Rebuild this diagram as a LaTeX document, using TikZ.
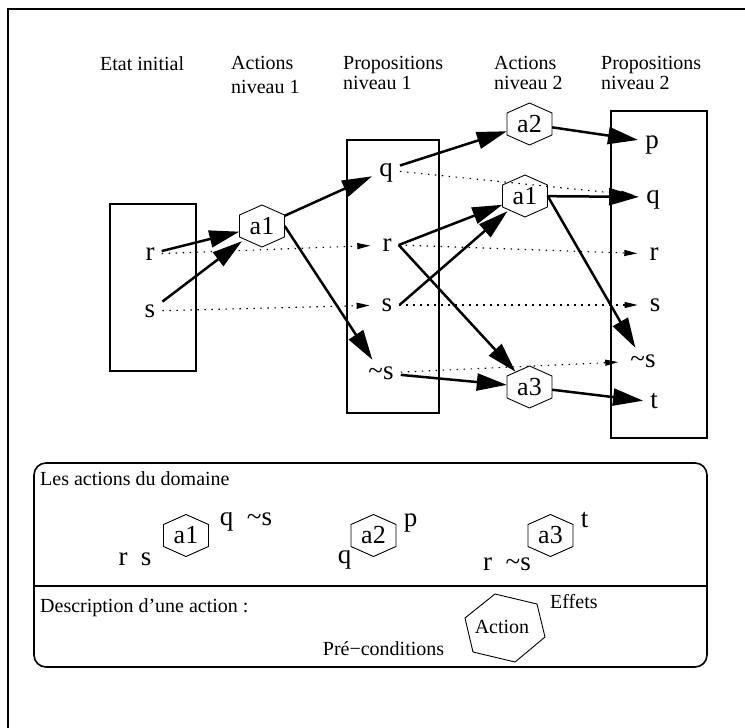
\documentclass[tikz,border=0pt]{standalone}
\usepackage{fontspec}
\setmainfont{Liberation Serif}
\usetikzlibrary{arrows.meta, positioning}
\tikzset {
  header/.style = {font=\fontsize{20}{20.5}\selectfont, align=left, anchor=north west, inner sep=0pt},
  note/.style = {font=\fontsize{20}{20}\selectfont, anchor=base west, inner sep=0pt},
  prop/.style = {font=\fontsize{27}{27}\selectfont, anchor=base, text height=12pt, text depth=0pt, inner sep=7pt},
  cond/.style = {font=\fontsize{27}{27}\selectfont, anchor=base, inner sep=0pt},
  act/.style = {font=\fontsize{26}{26}\selectfont, minimum width=45pt, minimum height=30pt, inner sep=0pt},
  hexline/.style = {line width=0.9pt},
  propbox/.style = {draw, line width=2.5pt, inner sep=0pt},
  line/.style = {->, line width=2.5pt, >={Triangle[length=30pt, width=17pt]}},
  noop/.style = {->, line width=1.1pt, dash pattern=on 1.5pt off 5.5pt, shorten >=5pt, >={Triangle[length=13pt, width=6pt]}}
}

\begin{document}
\begin{tikzpicture}[x=1pt, y=-1pt]
    \useasboundingbox (0,0) rectangle (745,728);
    \draw[line width=1.2pt] (8,728) -- (8,9) -- (745,9);

    % column titles
    \node[header] (hinit) at (100,56) {Etat initial};
    \node[header] (hact1) at (231,56) {Actions\\[4pt]niveau 1};
    \node[header] (hprop1) at (343,56) {Propositions\\niveau 1};
    \node[header] (hact2) at (494,56) {Actions\\niveau 2};
    \node[header] (hprop2) at (601,56) {Propositions\\niveau 2};

    % proposition levels
    \node[propbox, minimum width=86pt, minimum height=167pt] (init) at (153,287.5) {};
    \node[propbox, minimum width=92pt, minimum height=273pt] (niv1) at (393,276.5) {};
    \node[propbox, minimum width=96pt, minimum height=327pt] (niv2) at (659,274.5) {};

    \node[prop] (ri) at (150,260) {r};
    \node[prop] (si) at (150,317) {s};

    \node[prop] (q1) at (386,176) {q};
    \node[prop] (r1) at (387,251) {r};
    \node[prop] (s1) at (387,311) {s};
    \node[prop] (ns1) at (381,379) {\textasciitilde s};

    \node[prop] (p2) at (652,148) {p};
    \node[prop] (q2) at (653,203) {q};
    \node[prop] (r2) at (654,260) {r};
    \node[prop] (s2) at (655,311) {s};
    \node[prop] (ns2) at (643,367) {\textasciitilde s};
    \node[prop] (t2) at (654,408) {t};

    % action levels
    \node[act] (a1n1) at (262,226) {a1};
    \node[act] (a2n2) at (529.5,124) {a2};
    \node[act] (a1n2) at (525,196) {a1};
    \node[act] (a3n2) at (529.5,387) {a3};

    % domain actions
    \draw[line width=1.6pt, rounded corners=12pt] (34,463) rectangle (707,667);
    \draw[line width=1.6pt] (34,586) -- (707,586);
    \node[note] (dom) at (40,485) {Les actions du domaine};

    \node[act] (a1d) at (186,535.5) {a1};
    \node[cond] (pre1) at (135,565) {r\enspace s};
    \node[cond] (eff1) at (246,525.5) {q\enspace\textasciitilde s};
    \node[act] (a2d) at (373.5,535.5) {a2};
    \node[cond] (pre2) at (344.5,563) {q};
    \node[cond] (eff2) at (410.5,526.5) {p};
    \node[act] (a3d) at (550.5,535.5) {a3};
    \node[cond] (pre3) at (507,570) {r\enspace\textasciitilde s};
    \node[cond] (eff3) at (584.5,527) {t};

    \foreach \n in {a1n1, a2n2, a1n2, a3n2, a1d, a2d, a3d}
      \draw[hexline] (\n.center) ++(0,-21) -- ++(22.5,10) -- ++(0,22) -- ++(-22.5,10) -- ++(-22.5,-10) -- ++(0,-22) -- cycle;

    % legend
    \node[note] (desc) at (40,612.7) {Description d’une action :};
    \node[note, anchor=center] (action) at (502,627) {Action};
    \draw[hexline] (action.center) ++(-7,-33) -- ++(42,10) -- ++(8,33) -- ++(-30,25) -- ++(-42,-10) -- ++(-8,-34) -- cycle;
    \node[note] (effets) at (550,608) {Effets};
    \node[note] (precond) at (322.7,655) {Pré−conditions};

    % preconditions and effects
    \draw[line] (ri) -- (a1n1);
    \draw[line] (si) -- (a1n1);
    \draw[line] (a1n1) -- (q1);
    \draw[line] (a1n1.east) -- (ns1);
    \draw[line] (q1) -- (a2n2);
    \draw[line] (r1.east) -- (a1n2);
    \draw[line] (s1.east) -- (a1n2);
    \draw[line] (r1.east) -- (a3n2);
    \draw[line] (ns1) -- (a3n2);
    \draw[line] (a2n2) -- (p2);
    \draw[line] (a1n2) -- (q2);
    \draw[line] (a1n2.east) -- (ns2);
    \draw[line] (a3n2) -- (t2);

    % no-op actions
    \draw[noop] (ri) -- (r1);
    \draw[noop] (si) -- (s1);
    \draw[noop] (q1) -- (q2);
    \draw[noop] (r1.east) -- (r2);
    \draw[noop] (s1.east) -- (s2);
    \draw[noop] (ns1) -- (ns2);

\end{tikzpicture}
\end{document}
